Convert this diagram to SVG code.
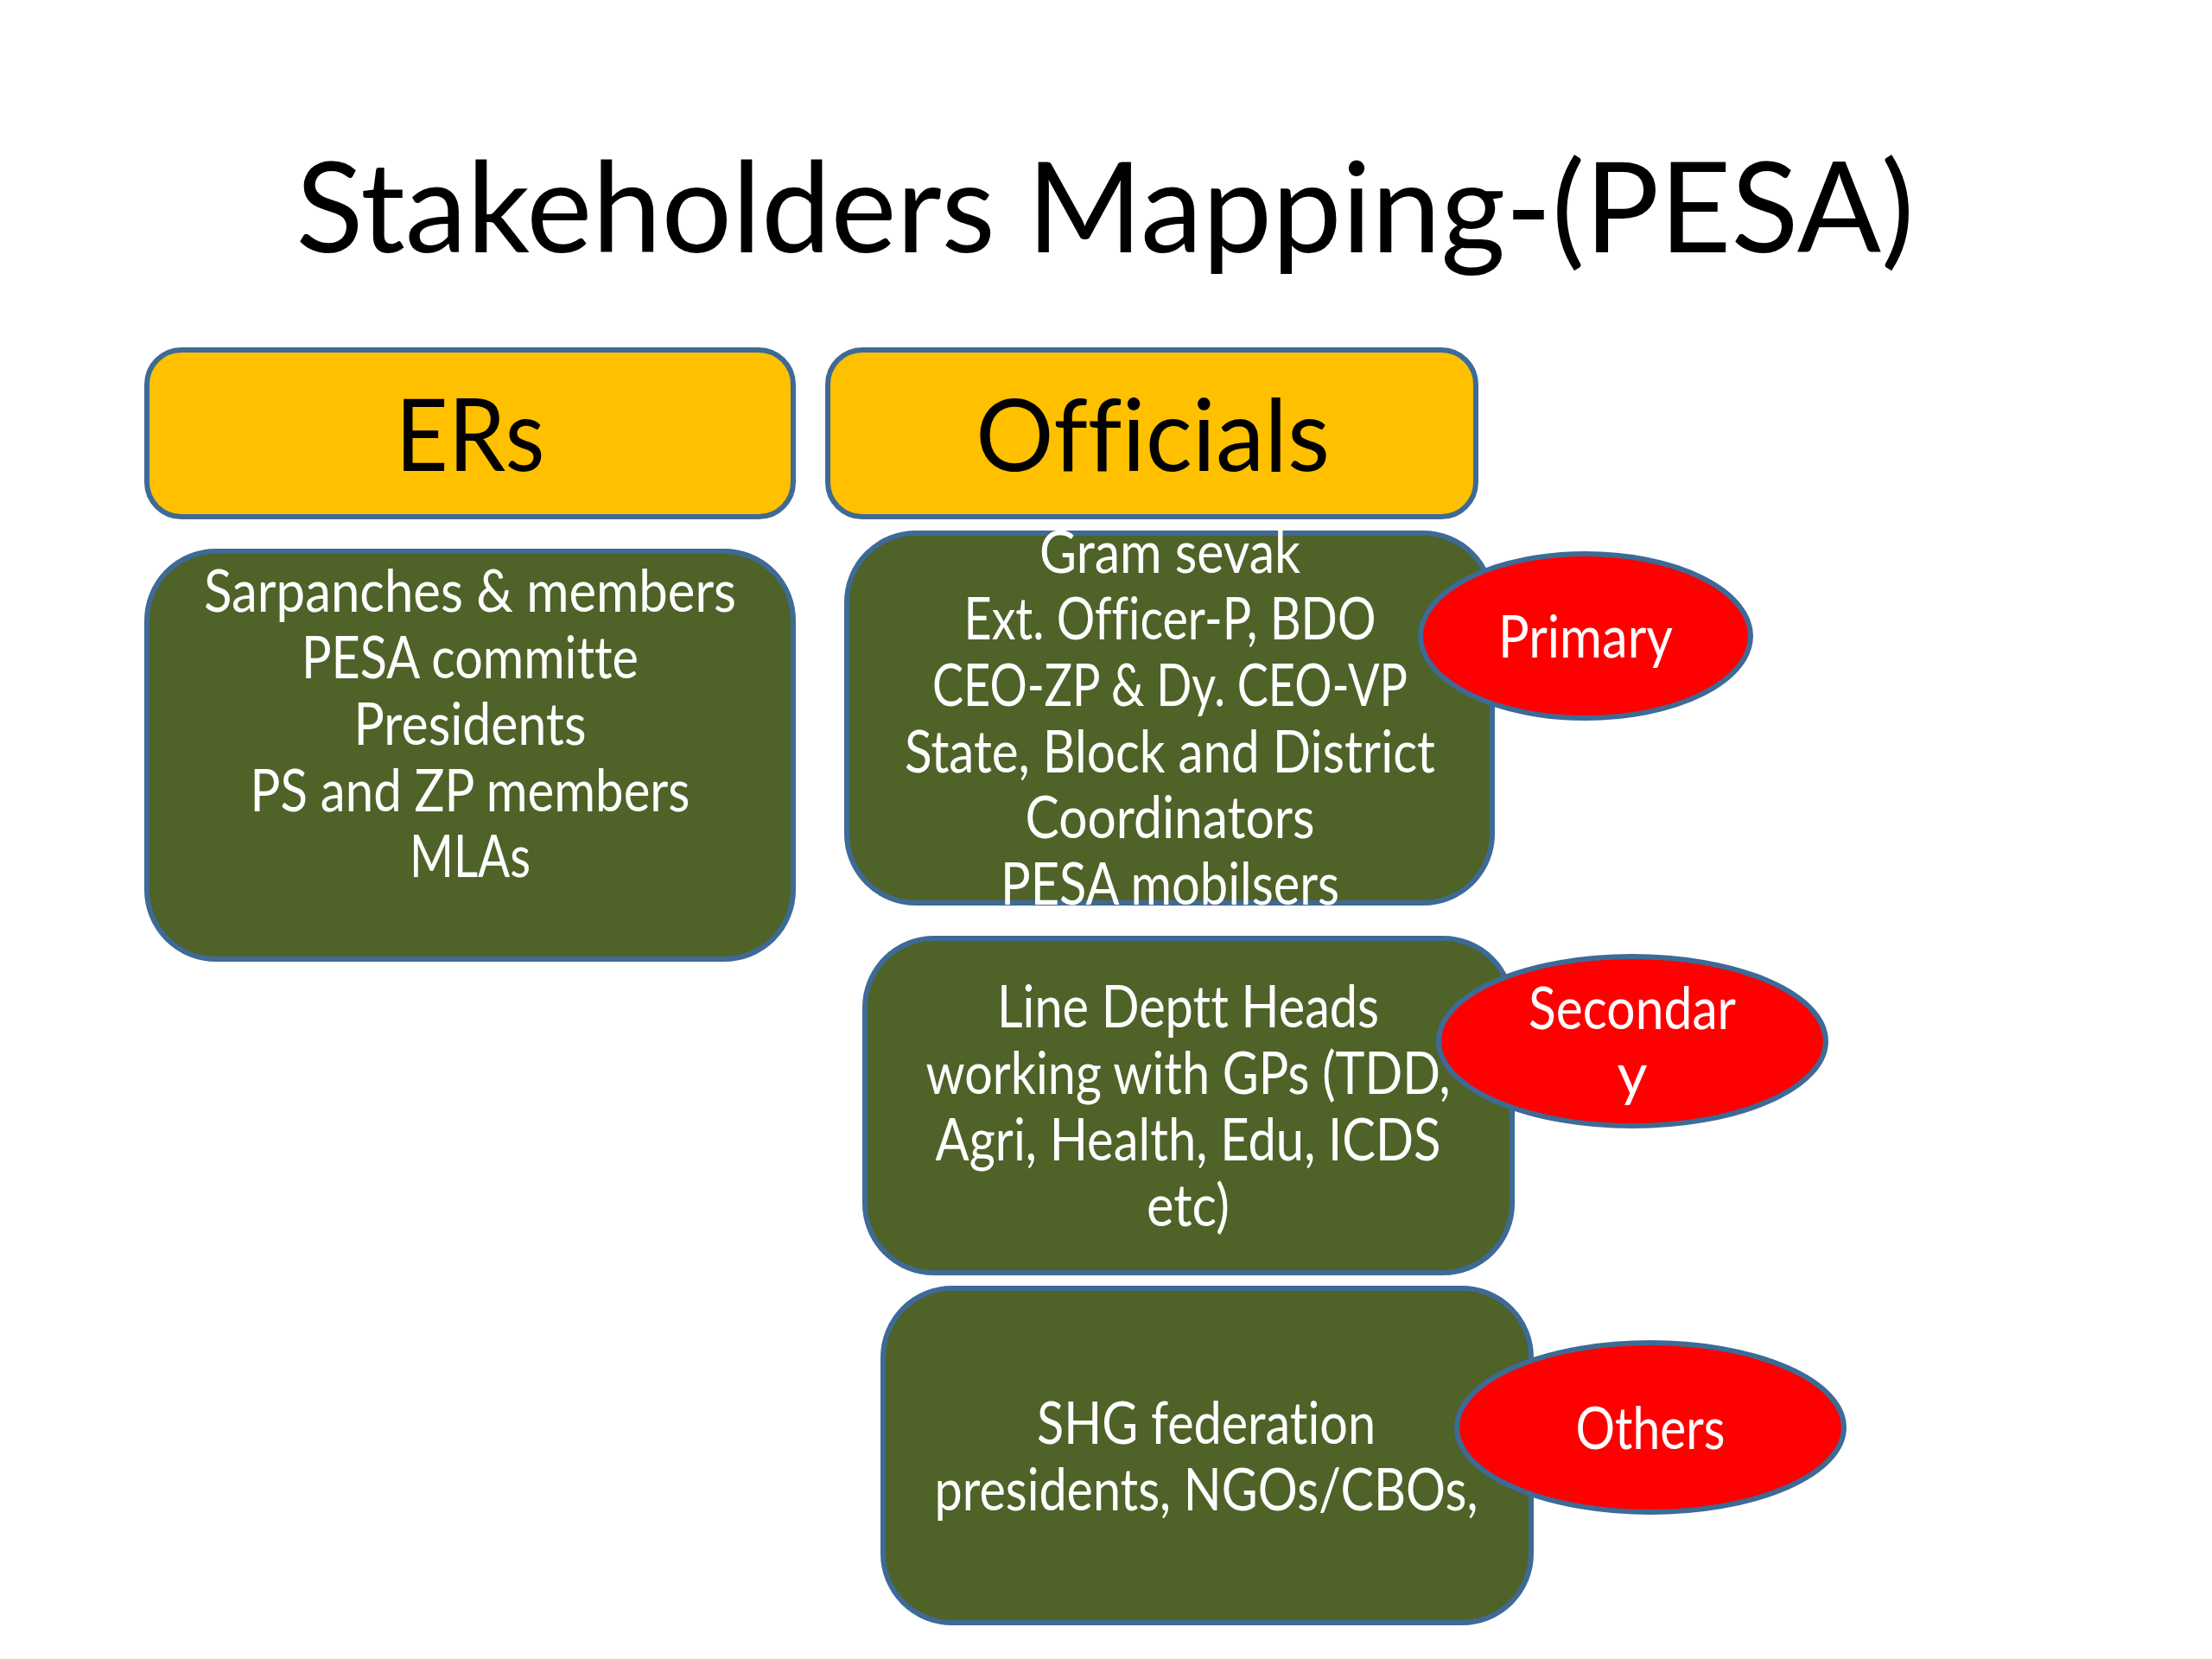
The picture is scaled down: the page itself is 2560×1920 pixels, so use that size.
<svg xmlns="http://www.w3.org/2000/svg" width="2560" height="1920" viewBox="0 0 2560 1920">
<style>
.hdr{fill:#FFC000;stroke:#3E6A96;stroke-width:6}
.grn{fill:#4F6228;stroke:#3E6A96;stroke-width:6}
.red{fill:#FF0000;stroke:#3E6A96;stroke-width:6}
text{font-family:Lato,"Liberation Sans",sans-serif;text-anchor:middle;font-variant-ligatures:none}
.t{fill:#fff;font-size:68px}
.h{fill:#000;font-size:116px}
.title{fill:#000;font-size:146px}
</style>
<rect width="2560" height="1920" fill="#fff"/>
<text class="title" x="1279" y="292" textLength="1873" lengthAdjust="spacingAndGlyphs">Stakeholders Mapping-(PESA)</text>
<g id="ers-header">
<rect class="hdr" x="170" y="405" width="748" height="193" rx="40"/>
<text class="h" x="544" y="545" textLength="173" lengthAdjust="spacingAndGlyphs">ERs</text>
</g>
<g id="officials-header">
<rect class="hdr" x="958" y="405" width="750" height="193" rx="40"/>
<text class="h" x="1334" y="545" textLength="410" lengthAdjust="spacingAndGlyphs">Officials</text>
</g>
<g id="ers-list">
<rect class="grn" x="170" y="638" width="748" height="472" rx="80"/>
<text class="t" x="544" y="708" textLength="616" lengthAdjust="spacingAndGlyphs">Sarpanches &amp; members</text>
<text class="t" x="544" y="785" textLength="390" lengthAdjust="spacingAndGlyphs">PESA committe</text>
<text class="t" x="544" y="862" textLength="269" lengthAdjust="spacingAndGlyphs">Presidents</text>
<text class="t" x="544" y="939" textLength="509" lengthAdjust="spacingAndGlyphs">PS and ZP members</text>
<text class="t" x="544" y="1015" textLength="140" lengthAdjust="spacingAndGlyphs">MLAs</text>
</g>
<g id="officials-primary">
<rect class="grn" x="980" y="617" width="747" height="428" rx="80"/>
<text class="t" x="1354" y="663" textLength="302" lengthAdjust="spacingAndGlyphs">Gram sevak</text>
<text class="t" x="1354" y="740" textLength="477" lengthAdjust="spacingAndGlyphs">Ext. Officer-P, BDO</text>
<text class="t" x="1354" y="817" textLength="550" lengthAdjust="spacingAndGlyphs">CEO-ZP &amp; Dy. CEO-VP</text>
<text class="t" x="1354" y="894" textLength="614" lengthAdjust="spacingAndGlyphs">State, Block and District</text>
<text class="t" x="1354" y="970" textLength="335" lengthAdjust="spacingAndGlyphs">Coordinators</text>
<text class="t" x="1354" y="1047" textLength="392" lengthAdjust="spacingAndGlyphs">PESA mobilsers</text>
</g>
<g id="primary">
<ellipse class="red" cx="1835" cy="736" rx="191" ry="95"/>
<text class="t" x="1835" y="761" textLength="202" lengthAdjust="spacingAndGlyphs">Primary</text>
</g>
<g id="officials-secondary">
<rect class="grn" x="1001" y="1086" width="749" height="387" rx="80"/>
<text class="t" x="1375" y="1189" textLength="442" lengthAdjust="spacingAndGlyphs">Line Deptt Heads</text>
<text class="t" x="1375" y="1266" textLength="607" lengthAdjust="spacingAndGlyphs">working with GPs (TDD,</text>
<text class="t" x="1375" y="1343" textLength="585" lengthAdjust="spacingAndGlyphs">Agri, Health, Edu, ICDS</text>
<text class="t" x="1375" y="1419" textLength="96" lengthAdjust="spacingAndGlyphs">etc)</text>
</g>
<g id="secondary">
<ellipse class="red" cx="1889" cy="1205" rx="224" ry="98"/>
<text class="t" x="1889" y="1191" textLength="240" lengthAdjust="spacingAndGlyphs">Secondar</text>
<text class="t" x="1889" y="1267">y</text>
</g>
<g id="others-list">
<rect class="grn" x="1022" y="1491" width="750" height="387" rx="80"/>
<text class="t" x="1396" y="1671" textLength="392" lengthAdjust="spacingAndGlyphs">SHG federation</text>
<text class="t" x="1396" y="1748" textLength="629" lengthAdjust="spacingAndGlyphs">presidents, NGOs/CBOs,</text>
</g>
<g id="others">
<ellipse class="red" cx="1910" cy="1652" rx="224" ry="98"/>
<text class="t" x="1910" y="1677" textLength="173" lengthAdjust="spacingAndGlyphs">Others</text>
</g>
<g id="connectors"></g>
</svg>
